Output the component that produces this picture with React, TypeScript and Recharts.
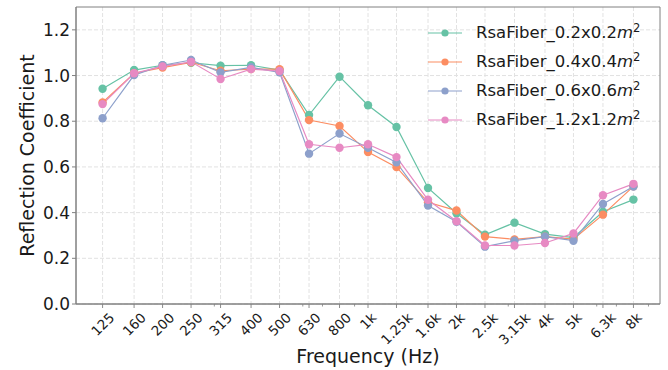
import React from 'react';
import { LineChart, Line, XAxis, YAxis, CartesianGrid, Legend, ReferenceArea, Label } from 'recharts';

const FREQS = [125, 160, 200, 250, 315, 400, 500, 630, 800, 1000, 1250, 1600, 2000, 2500, 3150, 4000, 5000, 6300, 8000];
const FREQ_LABELS = ['125', '160', '200', '250', '315', '400', '500', '630', '800', '1k', '1.25k', '1.6k', '2k', '2.5k', '3.15k', '4k', '5k', '6.3k', '8k'];
const MINOR_TICKS = [300, 600, 700, 900, 3000, 6000, 7000, 9000];
const Y_TICKS = [0, 0.2, 0.4, 0.6, 0.8, 1.0, 1.2];

const fiber02 = [0.942, 1.024, 1.045, 1.056, 1.043, 1.045, 1.024, 0.827, 0.995, 0.870, 0.775, 0.508, 0.397, 0.303, 0.356, 0.306, 0.291, 0.404, 0.457];
const fiber04 = [0.882, 1.010, 1.035, 1.058, 1.021, 1.028, 1.028, 0.805, 0.779, 0.665, 0.599, 0.445, 0.409, 0.295, 0.283, 0.295, 0.284, 0.391, 0.515];
const fiber06 = [0.813, 1.002, 1.045, 1.068, 1.014, 1.036, 1.014, 0.658, 0.746, 0.684, 0.620, 0.431, 0.360, 0.251, 0.277, 0.295, 0.277, 0.438, 0.514];
const fiber12 = [0.875, 1.010, 1.040, 1.060, 0.985, 1.028, 1.020, 0.699, 0.684, 0.699, 0.643, 0.456, 0.362, 0.256, 0.256, 0.267, 0.309, 0.476, 0.526];

const SERIES = [
  { key: 's02', name: 'RsaFiber_0.2x0.2', color: '#66c2a5', values: fiber02 },
  { key: 's04', name: 'RsaFiber_0.4x0.4', color: '#fc8d62', values: fiber04 },
  { key: 's06', name: 'RsaFiber_0.6x0.6', color: '#8da0cb', values: fiber06 },
  { key: 's12', name: 'RsaFiber_1.2x1.2', color: '#e78ac3', values: fiber12 },
];

const data = FREQS.map((f, i) => {
  const row: Record<string, number> = { freq: f };
  SERIES.forEach((s) => { row[s.key] = s.values[i]; });
  return row;
});

const X_DOMAIN = [101.5, 9850];
const AXIS_COLOR = '#808080';
const TEXT_COLOR = '#1a1a1a';

// rough DejaVu Sans advance widths, in em
const charW = (c: string) => (c === '.' ? 0.318 : c === 'k' ? 0.579 : 0.636);
const textEm = (s: string) => s.split('').reduce((a, c) => a + charW(c), 0);

const FreqTick = (props: any) => {
  const { x, y, payload } = props;
  const idx = FREQS.indexOf(payload.value);
  if (idx < 0) {
    return <line x1={x} x2={x} y1={y} y2={y + 2.5} stroke={AXIS_COLOR} strokeWidth={0.8} />;
  }
  const label = FREQ_LABELS[idx];
  const fs = 13.5;
  const side = (textEm(label) * fs + fs * 0.85) / Math.SQRT2;
  const cy = y + 7 + side / 2;
  return (
    <g>
      <line x1={x} x2={x} y1={y} y2={y + 4} stroke={AXIS_COLOR} strokeWidth={0.9} />
      <text
        x={x}
        y={cy}
        textAnchor="middle"
        dominantBaseline="central"
        transform={`rotate(-45 ${x} ${cy})`}
        fontSize={fs}
        fill={TEXT_COLOR}
      >
        {label}
      </text>
    </g>
  );
};

const YLabel = (props: any) => {
  const vb = props.viewBox || { y: 7, height: 296 };
  const cy = vb.y + vb.height / 2;
  return (
    <text x={34} y={cy} transform={`rotate(-90 34 ${cy})`} textAnchor="middle" fontSize={19} fill={TEXT_COLOR}>
      Reflection Coefficient
    </text>
  );
};

const LegendContent = () => (
  <div style={{ display: 'flex', flexDirection: 'column' }}>
    {SERIES.map((s) => (
      <div key={s.key} style={{ display: 'flex', alignItems: 'center', height: 29 }}>
        <svg width={34} height={10}>
          <line x1={0} x2={34} y1={5} y2={5} stroke={s.color} strokeWidth={1.2} />
          <circle cx={17} cy={5} r={3.6} fill={s.color} />
        </svg>
        <span style={{ marginLeft: 14, fontSize: 16.5, color: TEXT_COLOR, whiteSpace: 'nowrap', lineHeight: '20px' }}>
          {s.name}
          <i>m</i>
          <span style={{ fontSize: '0.7em', verticalAlign: '0.55em', lineHeight: 0 }}>2</span>
        </span>
      </div>
    ))}
  </div>
);

export default function App() {
  const allTicks = [...FREQS, ...MINOR_TICKS].sort((a, b) => a - b);
  return (
    <div style={{ position: 'absolute', left: 0, top: 0, width: 668, height: 370, background: '#fff', fontFamily: 'DejaVu Sans' }}>
      <LineChart width={668} height={370} data={data} margin={{ top: 7, right: 8, bottom: 0, left: 0 }}>
        <CartesianGrid stroke="#e2e2e2" strokeDasharray="4 2" verticalValues={FREQS} horizontalValues={Y_TICKS} />
        <XAxis
          dataKey="freq"
          type="number"
          scale="log"
          domain={X_DOMAIN}
          allowDataOverflow
          ticks={allTicks}
          interval={0}
          tick={<FreqTick />}
          tickLine={false}
          tickSize={0}
          tickMargin={0}
          axisLine={{ stroke: AXIS_COLOR }}
          height={66}
        >
          <Label value="Frequency (Hz)" position="insideBottom" offset={7} style={{ fontSize: 19, fill: TEXT_COLOR }} />
        </XAxis>
        <YAxis
          type="number"
          domain={[0, 1.3]}
          allowDataOverflow
          ticks={Y_TICKS}
          interval={0}
          tickFormatter={(v: number) => v.toFixed(1)}
          width={76}
          tickSize={4}
          tickMargin={2}
          tick={{ fontSize: 17, fill: TEXT_COLOR }}
          tickLine={{ stroke: AXIS_COLOR }}
          axisLine={{ stroke: AXIS_COLOR }}
          label={<YLabel />}
        />
        <ReferenceArea x1={X_DOMAIN[0]} x2={X_DOMAIN[1]} y1={0} y2={1.3} fill="none" stroke={AXIS_COLOR} ifOverflow="visible" />
        <Legend
          layout="vertical"
          align="center"
          verticalAlign="middle"
          content={<LegendContent />}
          wrapperStyle={{ top: 18, left: 428, width: 'auto' }}
        />
        {SERIES.map((s) => (
          <Line
            key={s.key}
            type="linear"
            dataKey={s.key}
            name={s.name}
            stroke={s.color}
            strokeWidth={1.2}
            dot={{ r: 4.2, fill: s.color, stroke: s.color, strokeWidth: 0 }}
            isAnimationActive={false}
          />
        ))}
      </LineChart>
    </div>
  );
}
